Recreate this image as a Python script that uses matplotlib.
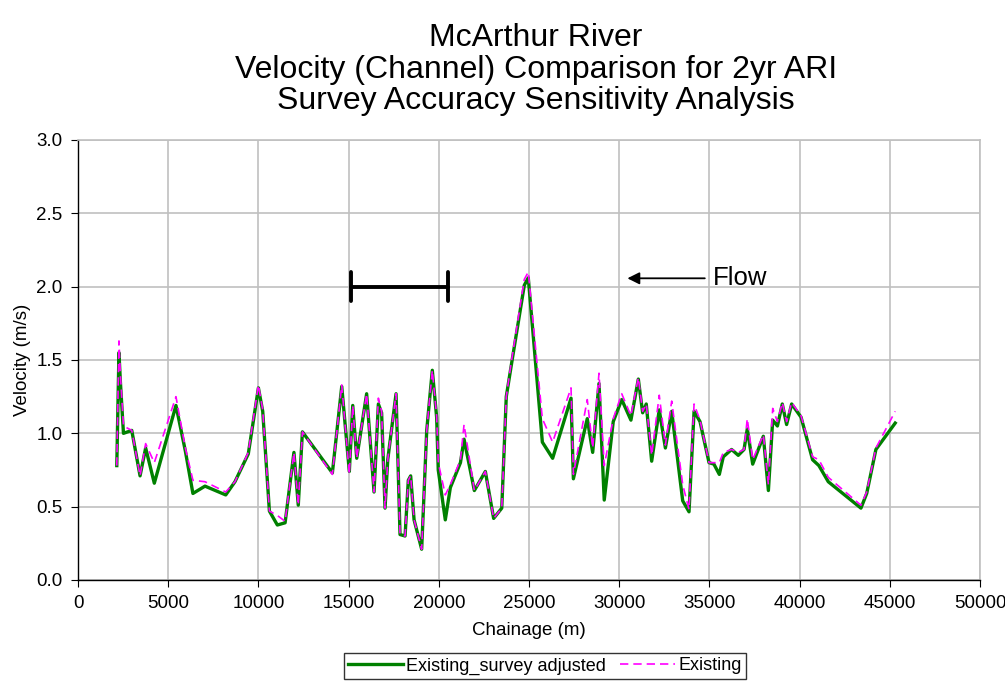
import matplotlib
matplotlib.use("Agg")
import matplotlib.pyplot as plt

plt.rcParams['font.family'] = ['Liberation Sans', 'DejaVu Sans']

chainage_adj = [2150, 2270, 2350, 2520, 2980, 3440, 3750, 4230, 5430, 5950, 6370, 7040, 8190, 8700, 9440,
                10000, 10240, 10610, 11050, 11480, 11970, 12210, 12440, 14100, 14620, 15040, 15230, 15450,
                16000, 16410, 16650, 16830, 17020, 17170, 17630, 17850, 18130, 18310, 18440, 18630, 19050,
                19330, 19640, 19880, 19970, 20360, 20640, 21200, 21400, 21970, 22580, 23040, 23490, 23740,
                24000, 24740, 24960, 25740, 26310, 27330, 27460, 28230, 28530, 28880, 29170, 29670, 30140,
                30650, 31060, 31300, 31500, 31800, 32220, 32560, 32910, 33520, 33870, 34150, 34480, 34980,
                35250, 35550, 35770, 36230, 36600, 36920, 37100, 37400, 37990, 38270, 38510, 38770, 39040,
                39280, 39560, 40080, 40720, 41070, 41590, 43400, 43720, 44230, 45300]
velocity_adj = [0.78, 1.55, 1.35, 1.00, 1.02, 0.71, 0.90, 0.66, 1.19, 0.88, 0.59, 0.64, 0.58, 0.67, 0.86,
                1.31, 1.15, 0.47, 0.375, 0.39, 0.87, 0.51, 1.01, 0.73, 1.32, 0.74, 1.19, 0.83,
                1.27, 0.60, 1.20, 1.14, 0.49, 0.82, 1.27, 0.31, 0.30, 0.68, 0.71, 0.41, 0.21,
                1.02, 1.43, 1.11, 0.75, 0.41, 0.63, 0.80, 0.96, 0.61, 0.74, 0.42, 0.49, 1.25,
                1.45, 2.01, 2.06, 0.94, 0.83, 1.24, 0.69, 1.10, 0.87, 1.34, 0.545, 1.08, 1.23,
                1.09, 1.37, 1.14, 1.20, 0.81, 1.16, 0.90, 1.15, 0.54, 0.465, 1.15, 1.08, 0.80,
                0.79, 0.72, 0.84, 0.89, 0.85, 0.89, 1.03, 0.79, 0.98, 0.61, 1.09, 1.05, 1.20,
                1.06, 1.20, 1.11, 0.82, 0.78, 0.67, 0.49, 0.59, 0.89, 1.07]

chainage_exist = chainage_adj
velocity_exist = [0.78, 1.63, 1.40, 1.05, 1.02, 0.71, 0.93, 0.80, 1.25, 0.90, 0.68, 0.67, 0.60, 0.67, 0.87,
                  1.33, 1.16, 0.47, 0.44, 0.40, 0.87, 0.51, 1.01, 0.72, 1.33, 0.72, 1.19, 0.83,
                  1.27, 0.60, 1.24, 1.15, 0.49, 0.82, 1.27, 0.31, 0.30, 0.68, 0.71, 0.41, 0.21,
                  1.02, 1.43, 1.12, 0.80, 0.58, 0.65, 0.82, 1.06, 0.61, 0.74, 0.42, 0.49, 1.25,
                  1.47, 2.05, 2.10, 1.10, 0.94, 1.31, 0.72, 1.23, 0.90, 1.41, 0.78, 1.10, 1.27,
                  1.12, 1.38, 1.15, 1.20, 0.85, 1.26, 0.92, 1.22, 0.65, 0.48, 1.20, 1.09, 0.80,
                  0.80, 0.80, 0.87, 0.89, 0.87, 0.89, 1.10, 0.82, 0.99, 0.65, 1.17, 1.08, 1.21,
                  1.08, 1.21, 1.12, 0.84, 0.82, 0.70, 0.51, 0.60, 0.90, 1.15]

bar_start, bar_end, bar_level = 15115, 20530, 2.0
arrow_tail, arrow_head, arrow_level = 34900, 30300, 2.057

x_ticks = list(range(0, 50001, 5000))
y_ticks = [0.0, 0.5, 1.0, 1.5, 2.0, 2.5, 3.0]

fig = plt.figure(figsize=(10.05, 6.84), dpi=100)
ax = fig.add_axes([78/1005, 1-580/684, 902/1005, 440/684])

ax.plot(chainage_adj, velocity_adj, color='#008000', lw=2.4, label='Existing_survey adjusted', zorder=3)
ax.plot(chainage_exist, velocity_exist, color='#ff00ff', lw=1.2, ls=(0, (5, 3)), label='Existing', zorder=4)

# annotations
ax.plot([bar_start, bar_end], [bar_level, bar_level], color='black', lw=2.8, solid_capstyle='round', zorder=5)
for xx in (bar_start, bar_end):
    ax.plot([xx, xx], [bar_level - 0.1, bar_level + 0.1], color='black', lw=2.8, solid_capstyle='round', zorder=5)
ax.annotate('', xy=(arrow_head, arrow_level), xytext=(arrow_tail, arrow_level),
            arrowprops=dict(arrowstyle='-|>', color='black', lw=1.3, mutation_scale=18), zorder=5)
ax.text(arrow_tail + 300, arrow_level, 'Flow', fontsize=18.5, va='center', ha='left')

ax.set_xlim(0, 50000)
ax.set_ylim(0, 3.0)
ax.set_xticks(x_ticks)
ax.set_xticklabels([str(t) for t in x_ticks], fontsize=13.5)
ax.set_yticks(y_ticks)
ax.set_yticklabels([f'{t:.1f}' for t in y_ticks], fontsize=13.5)
ax.grid(True, color='#c0c0c0', lw=1.2)
ax.set_axisbelow(True)
for s in ('top', 'right'):
    ax.spines[s].set_color('#c0c0c0')
    ax.spines[s].set_linewidth(1.2)
for s in ('left', 'bottom'):
    ax.spines[s].set_color('black')
    ax.spines[s].set_linewidth(1.0)
ax.tick_params(direction='out', length=5, pad=6)
ax.set_xlabel('Chainage (m)', fontsize=13.5, labelpad=7)
ax.set_ylabel('Velocity (m/s)', fontsize=13.5, labelpad=4)

fig.text(536/1005, 1-38/684, 'McArthur River', fontsize=23, ha='center', va='center')
fig.text(536/1005, 1-70/684, 'Velocity (Channel) Comparison for 2yr ARI', fontsize=23, ha='center', va='center')
fig.text(536/1005, 1-101/684, 'Survey Accuracy Sensitivity Analysis', fontsize=23, ha='center', va='center')

leg = fig.legend(loc='center', bbox_to_anchor=(545/1005, 1-666/684), ncol=2, fontsize=13,
                 frameon=True, fancybox=False, edgecolor='black', handlelength=3, columnspacing=0.8,
                 handletextpad=0.2, borderpad=0.25)
leg.get_frame().set_linewidth(1.0)

fig.savefig('out.png', dpi=100)
